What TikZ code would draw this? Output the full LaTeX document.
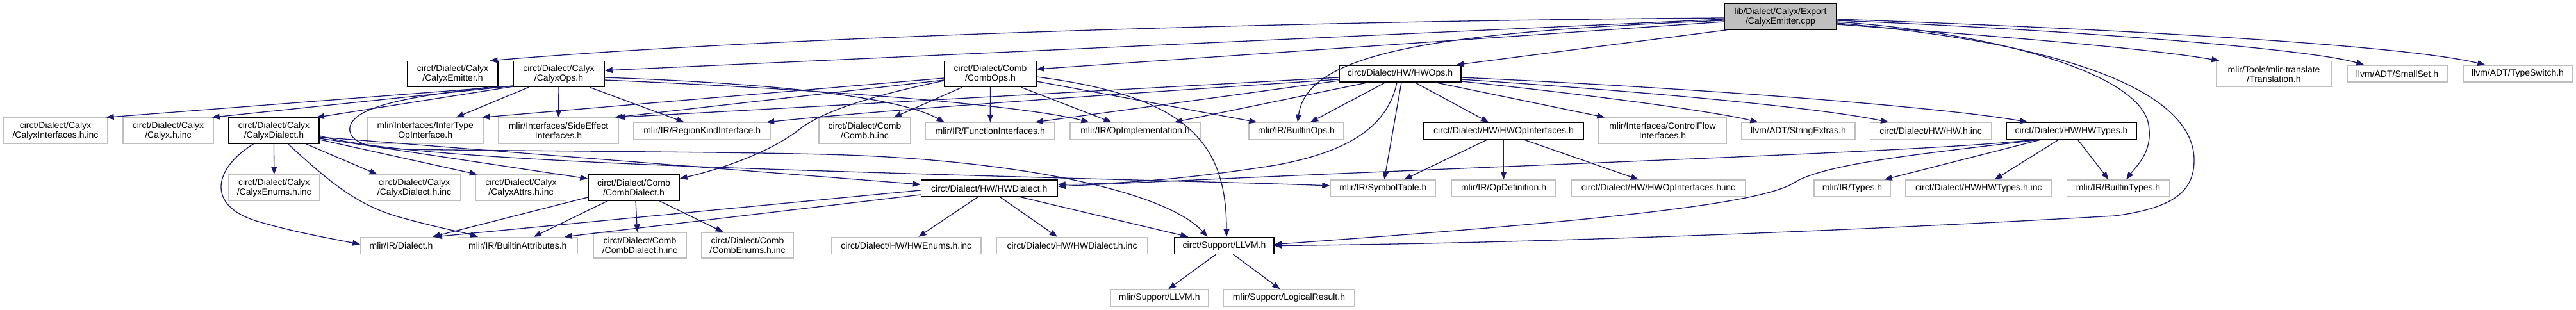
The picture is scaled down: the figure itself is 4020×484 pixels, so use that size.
\documentclass[tikz,border=0pt]{standalone}
\usepackage{fontspec}
\setmainfont{Liberation Sans}
\usetikzlibrary{arrows.meta}
\definecolor{edgeblue}{HTML}{191970}
\definecolor{grayborder}{HTML}{BFBFBF}
\definecolor{rootgray}{HTML}{BFBFBF}
\newcommand\dxfont{\fontsize{14}{15}\selectfont}
\tikzset{
 nd/.style={draw=grayborder, line width=1.4pt, fill=white, inner sep=0pt, align=center, font=\dxfont, text=black},
 doc/.style={nd, draw=black},
 rootnd/.style={nd, draw=black, fill=rootgray},
 conn/.style={draw=edgeblue, line width=1.3pt, -{Triangle[length=12pt,width=9pt]}},
 two/.style={minimum height=40pt},
 one/.style={minimum height=26pt},
 w/.style={minimum width=#1pt}
}
\begin{document}
\begin{tikzpicture}[x=1pt,y=-1pt]
\useasboundingbox[fill=white] (0,0) rectangle (4020,484);
% row 1
\node[rootnd,two,w=175] (root) at (2778.5,26) {lib/Dialect/Calyx/Export\\/CalyxEmitter.cpp};
% row 2
\node[doc,two,w=141] (emitH) at (706.5,115.5) {circt/Dialect/Calyx\\/CalyxEmitter.h};
\node[doc,two,w=142] (calyxOps) at (872,115.5) {circt/Dialect/Calyx\\/CalyxOps.h};
\node[doc,two,w=143] (combOps) at (1545.5,115.5) {circt/Dialect/Comb\\/CombOps.h};
\node[doc,one,w=190] (hwOps) at (2185,115) {circt/Dialect/HW/HWOps.h};
\node[nd,two,w=179] (translation) at (3548.5,115.5) {mlir/Tools/mlir-translate\\/Translation.h};
\node[nd,one,w=156] (smallSet) at (3741,115) {llvm/ADT/SmallSet.h};
\node[nd,one,w=170] (typeSwitch) at (3929,115) {llvm/ADT/TypeSwitch.h};
% row 3
\node[nd,two,w=163] (calyxIfInc) at (86.5,204) {circt/Dialect/Calyx\\/CalyxInterfaces.h.inc};
\node[nd,two,w=141] (calyxInc) at (262.5,204) {circt/Dialect/Calyx\\/Calyx.h.inc};
\node[doc,two,w=141] (calyxDialect) at (427.5,204) {circt/Dialect/Calyx\\/CalyxDialect.h};
\node[nd,two,w=181.5] (inferType) at (663.75,204) {mlir/Interfaces/InferType\\OpInterface.h};
\node[nd,two,w=187] (sideEffect) at (871.5,204) {mlir/Interfaces/SideEffect\\Interfaces.h};
\node[nd,one,w=213.5] (regionKind) at (1095.75,204.5) {mlir/IR/RegionKindInterface.h};
\node[nd,two,w=143] (combInc) at (1349.5,204) {circt/Dialect/Comb\\/Comb.h.inc};
\node[nd,one,w=201.5] (funcIf) at (1545.25,204.5) {mlir/IR/FunctionInterfaces.h};
\node[nd,one,w=203] (opImpl) at (1771.5,204.5) {mlir/IR/OpImplementation.h};
\node[nd,one,w=148] (builtinOps) at (2023,204.5) {mlir/IR/BuiltinOps.h};
\node[doc,one,w=249] (hwOpIf) at (2346.5,204.5) {circt/Dialect/HW/HWOpInterfaces.h};
\node[nd,two,w=199] (ctrlFlow) at (2594.5,204) {mlir/Interfaces/ControlFlow\\Interfaces.h};
\node[nd,one,w=177] (strExt) at (2806.5,204.5) {llvm/ADT/StringExtras.h};
\node[nd,one,w=188.5] (hwInc) at (3013,204.5) {circt/Dialect/HW/HW.h.inc};
\node[doc,one,w=203] (hwTypes) at (3232.5,204.5) {circt/Dialect/HW/HWTypes.h};
% row 4
\node[nd,two,w=142.5] (calyxEnums) at (427.75,293) {circt/Dialect/Calyx\\/CalyxEnums.h.inc};
\node[nd,two,w=144] (calyxDialectInc) at (646.5,293) {circt/Dialect/Calyx\\/CalyxDialect.h.inc};
\node[nd,two,w=141] (calyxAttrs) at (813,293) {circt/Dialect/Calyx\\/CalyxAttrs.h.inc};
\node[doc,two,w=142] (combDialect) at (989,293) {circt/Dialect/Comb\\/CombDialect.h};
\node[doc,one,w=212.5] (hwDialect) at (1543.75,294) {circt/Dialect/HW/HWDialect.h};
\node[nd,one,w=164.6] (symbolTable) at (2158.3,294) {mlir/IR/SymbolTable.h};
\node[nd,one,w=163] (opDef) at (2346.5,294) {mlir/IR/OpDefinition.h};
\node[nd,one,w=272] (hwOpIfInc) at (2588,294) {circt/Dialect/HW/HWOpInterfaces.h.inc};
\node[nd,one,w=119] (types) at (2890.5,294) {mlir/IR/Types.h};
\node[nd,one,w=227.6] (hwTypesInc) at (3087.8,294) {circt/Dialect/HW/HWTypes.h.inc};
\node[nd,one,w=160] (builtinTypes) at (3305.5,294) {mlir/IR/BuiltinTypes.h};
% row 5
\node[nd,one,w=126.5] (dialect) at (626,383.5) {mlir/IR/Dialect.h};
\node[nd,one,w=186.4] (builtinAttrs) at (807.8,383.5) {mlir/IR/BuiltinAttributes.h};
\node[nd,two,w=145] (combDialectInc) at (998.5,383) {circt/Dialect/Comb\\/CombDialect.h.inc};
\node[nd,two,w=143] (combEnumsInc) at (1166.5,383) {circt/Dialect/Comb\\/CombEnums.h.inc};
\node[nd,one,w=233.5] (hwEnumsInc) at (1414.25,383.5) {circt/Dialect/HW/HWEnums.h.inc};
\node[nd,one,w=235] (hwDialectInc) at (1673,383.5) {circt/Dialect/HW/HWDialect.h.inc};
\node[doc,one,w=155] (supLLVM) at (1910.5,383.5) {circt/Support/LLVM.h};
% row 6
\node[nd,one,w=152.5] (mlirLLVM) at (1809.25,465) {mlir/Support/LLVM.h};
\node[nd,one,w=205] (logicalResult) at (2011.5,465) {mlir/Support/LogicalResult.h};

% ---- edges from root
\draw[conn] ([yshift=-2pt]root.west) .. controls (2000,33) and (1200,58) .. ([xshift=58pt]emitH.north);
\draw[conn] ([yshift=-4pt]root.west) -- ([yshift=5.5pt]calyxOps.east);
\draw[conn] ([yshift=-8pt]root.west) -- ([yshift=7.5pt]combOps.east);
\draw[conn] ([xshift=5pt]root.south west) -- ([xshift=-8pt]hwOps.north east);
\draw[conn] ([yshift=-6pt]root.west) .. controls (2250,50) and (2040,80) .. ([xshift=2pt]builtinOps.north);
\draw[conn] ([yshift=-12pt]root.east) .. controls (3100,55) and (3350,75) .. ([xshift=5pt]translation.north west);
\draw[conn] ([yshift=-6pt]root.east) .. controls (3200,45) and (3600,75) .. ([xshift=27pt]smallSet.north west);
\draw[conn] ([yshift=-4pt]root.east) .. controls (3300,45) and (3750,70) .. ([xshift=35pt]typeSwitch.north west);
\draw[conn] ([yshift=-8pt]root.east) .. controls (3100,50) and (3330,110) .. (3352,190) .. controls (3362,235) and (3335,258) .. ([xshift=12.5pt]builtinTypes.north);
\draw[conn] ([yshift=-10pt]root.east) .. controls (3250,70) and (3424,150) .. (3424,250) .. controls (3424,300) and (3390,325) .. (3300,337) .. controls (2900,360) and (2400,380) .. (supLLVM.east);
% ---- CalyxEmitter.h
\draw[conn] ([xshift=55pt]emitH.south) .. controls (650,150) and (540,165) .. (546,205) .. controls (552,235) and (620,233) .. (700,234) .. controls (1000,237) and (1200,238) .. (1320,242) .. controls (1600,252) and (1820,300) .. ([xshift=-26pt]supLLVM.north);
% ---- CalyxOps.h
\draw[conn] ([yshift=2pt]calyxOps.south west) -- ([xshift=-3pt]calyxIfInc.north east);
\draw[conn] ([yshift=2pt]calyxOps.south west) -- ([xshift=-3pt]calyxInc.north east);
\draw[conn] ([yshift=1pt]calyxOps.south west) -- ([xshift=-5pt]calyxDialect.north east);
\draw[conn] ([xshift=-47pt]calyxOps.south) -- ([xshift=48pt]inferType.north);
\draw[conn] (calyxOps.south) -- (sideEffect.north);
\draw[conn] ([xshift=48pt]calyxOps.south) -- ([xshift=-28pt]regionKind.north);
\draw[conn] ([yshift=-5.5pt]calyxOps.east) .. controls (1200,130) and (1400,150) .. ([xshift=30pt]funcIf.north west);
\draw[conn] ([yshift=-9.5pt]calyxOps.east) .. controls (1300,140) and (1600,165) .. ([xshift=30pt]opImpl.north west);
% ---- CalyxDialect.h
\draw[conn] ([xshift=-32pt]calyxDialect.south) .. controls (335,262) and (320,320) .. (400,345) .. controls (460,363) and (520,373) .. ([yshift=2pt]dialect.west);
\draw[conn] (calyxDialect.south) -- (calyxEnums.north);
\draw[conn] ([xshift=22pt]calyxDialect.south) .. controls (520,290) and (560,320) .. (620,338) .. controls (680,355) and (720,362) .. ([xshift=32pt]builtinAttrs.north west);
\draw[conn] ([xshift=50pt]calyxDialect.south) -- ([xshift=15pt]calyxDialectInc.north west);
\draw[conn] ([yshift=-14pt]calyxDialect.east) -- ([xshift=3pt]calyxAttrs.north west);
\draw[conn] ([yshift=-12pt]calyxDialect.east) -- ([yshift=14pt]combDialect.west);
\draw[conn] ([yshift=-10pt]calyxDialect.east) -- ([yshift=6pt]hwDialect.west);
\draw[conn] ([yshift=-8pt]calyxDialect.east) .. controls (600,240) and (900,255) .. (1320,268) .. controls (1700,280) and (1950,285) .. ([yshift=4pt]symbolTable.west);
% ---- CombOps.h
\draw[conn] ([yshift=-6.5pt]combOps.west) -- ([xshift=-3pt]inferType.north east);
\draw[conn] ([yshift=-9.5pt]combOps.west) -- ([xshift=-6pt]sideEffect.north east);
\draw[conn] ([xshift=-44pt]combOps.south) -- ([xshift=-27pt]combInc.north east);
\draw[conn] (combOps.south) -- (funcIf.north);
\draw[conn] ([xshift=48pt]combOps.south) -- ([xshift=-37pt]opImpl.north);
\draw[conn] ([yshift=-11.5pt]combOps.east) -- ([xshift=13pt]builtinOps.north west);
\draw[conn] ([yshift=-10.5pt]combOps.west) .. controls (1380,145) and (1290,170) .. (1250,200) .. controls (1200,240) and (1120,265) .. ([yshift=14pt]combDialect.east);
\draw[conn] ([yshift=-4.5pt]combOps.east) .. controls (1850,150) and (1914,220) .. ([xshift=3.5pt]supLLVM.north);
% ---- HWOps.h
\draw[conn] ([yshift=-6pt]hwOps.west) -- ([xshift=-2pt]sideEffect.north east);
\draw[conn] ([yshift=-9pt]hwOps.west) .. controls (1700,150) and (1400,170) .. ([xshift=-7pt]regionKind.north east);
\draw[conn] ([yshift=-11pt]hwOps.west) -- ([xshift=-31pt]funcIf.north east);
\draw[conn] ([xshift=-50pt]hwOps.south) -- ([xshift=-41pt]opImpl.north east);
\draw[conn] ([xshift=-23pt]hwOps.south) -- ([xshift=22pt]builtinOps.north);
\draw[conn] ([xshift=-5pt]hwOps.south) .. controls (2165,200) and (2100,238) .. (1990,258) .. controls (1850,280) and (1750,287) .. ([yshift=6pt]hwDialect.east);
\draw[conn] ([xshift=2pt]hwOps.south) -- ([xshift=2pt]symbolTable.north);
\draw[conn] ([xshift=23pt]hwOps.south) -- ([xshift=-23.5pt]hwOpIf.north);
\draw[conn] ([xshift=55pt]hwOps.south) -- ([xshift=10pt]ctrlFlow.north west);
\draw[conn] ([yshift=-12pt]hwOps.east) .. controls (2500,150) and (2680,175) .. ([xshift=26pt]strExt.north west);
\draw[conn] ([yshift=-9pt]hwOps.east) .. controls (2600,145) and (2850,170) .. ([xshift=29pt]hwInc.north west);
\draw[conn] ([yshift=-6pt]hwOps.east) .. controls (2700,140) and (3050,170) .. ([xshift=34pt]hwTypes.north west);
% ---- HWOpInterfaces.h
\draw[conn] ([xshift=-26pt]hwOpIf.south) -- ([xshift=-50pt]symbolTable.north east);
\draw[conn] (hwOpIf.south) -- (opDef.north);
\draw[conn] ([xshift=32pt]hwOpIf.south) -- ([xshift=-31pt]hwOpIfInc.north);
% ---- HWTypes.h
\draw[conn] ([xshift=-58pt]hwTypes.south) .. controls (3000,238) and (2400,255) .. ([yshift=3pt]hwDialect.east);
\draw[conn] ([xshift=-50pt]hwTypes.south) .. controls (3000,240) and (2850,255) .. (2800,285) .. controls (2750,318) and (2500,345) .. ([yshift=2pt]supLLVM.east);
\draw[conn] ([xshift=-48pt]hwTypes.south) -- ([xshift=-10pt]types.north east);
\draw[conn] ([xshift=-20pt]hwTypes.south) -- ([xshift=25pt]hwTypesInc.north);
\draw[conn] ([xshift=10pt]hwTypes.south) -- ([xshift=-15pt]builtinTypes.north);
% ---- HWDialect.h
\draw[conn] ([yshift=-3pt]hwDialect.west) -- ([xshift=-12pt]dialect.north east);
\draw[conn] ([yshift=-10pt]hwDialect.west) -- ([xshift=-21pt]builtinAttrs.north east);
\draw[conn] ([xshift=-18pt]hwDialect.south) -- ([xshift=19pt]hwEnumsInc.north);
\draw[conn] ([xshift=17pt]hwDialect.south) -- ([xshift=-23pt]hwDialectInc.north);
\draw[conn] ([xshift=49pt]hwDialect.south) -- ([xshift=22pt]supLLVM.north west);
% ---- CombDialect.h
\draw[conn] ([yshift=-15pt]combDialect.west) -- ([xshift=-15pt]dialect.north east);
\draw[conn] ([xshift=-41pt]combDialect.south) -- ([xshift=25pt]builtinAttrs.north);
\draw[conn] ([xshift=3pt]combDialect.south) -- ([xshift=-4pt]combDialectInc.north);
\draw[conn] ([xshift=40pt]combDialect.south) -- ([xshift=-38pt]combEnumsInc.north);
% ---- circt/Support/LLVM.h
\draw[conn] ([xshift=-13pt]supLLVM.south) -- ([xshift=14pt]mlirLLVM.north);
\draw[conn] ([xshift=14pt]supLLVM.south) -- ([xshift=-14pt]logicalResult.north);
\end{tikzpicture}
\end{document}
